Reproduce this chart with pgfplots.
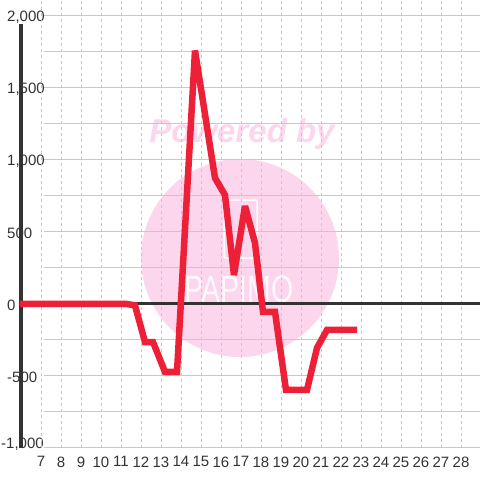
\documentclass[border=0pt]{standalone}
\usepackage{pgfplots}
\pgfplotsset{compat=1.18}
\usepackage{fontspec}
\setmainfont{Liberation Sans}
\definecolor{linered}{RGB}{238,32,56}
\definecolor{wmpink}{RGB}{251,214,236}
\definecolor{axdark}{RGB}{51,51,51}
\definecolor{gridgray}{RGB}{200,200,200}
\begin{document}
\begin{tikzpicture}
\useasboundingbox (-20pt,-32pt) rectangle (460pt,448pt);
\begin{axis}[
  at={(0,0)}, anchor=south west,
  scale only axis, width=460pt, height=448pt,
  xmin=5.95, xmax=28.95, ymin=-1000, ymax=2111,
  axis line style={draw=none},
  xtick={7,...,28}, ytick={-500,0,...,2000},
  extra y ticks={-1000},
  extra y tick style={yticklabel style={xshift=-6pt, yshift=5pt}},
  major tick length=0pt,
  tick label style={font=\fontsize{15}{17}\selectfont, text=axdark},
  /pgf/number format/assume math mode=true,
  /pgf/number format/1000 sep={,},
  yticklabel style={anchor=west, fill=white, inner sep=1pt, xshift=-14pt, yshift=-1pt},
  xticklabel style={yshift=-5pt},
  clip=false,
]
% watermark
\fill[wmpink] (axis cs:16.95,319) circle[radius=99pt];
\node[text=wmpink, font=\fontsize{33}{33}\selectfont\bfseries\itshape] at (axis cs:17.05,1181) {Powered by};
\draw[white, line width=1.5pt, rounded corners=2pt, opacity=0.9] (axis cs:16.15,319) rectangle (axis cs:17.8,722);
\node[text=white, opacity=0.85, xscale=0.75, font=\fontsize{38}{38}\selectfont] at (axis cs:16.9,104) {PAPIMO};
% grid
\pgfplotsinvokeforeach{7,...,28}{
  \draw[gridgray, line width=0.8pt, dash pattern=on 3pt off 3pt] (axis cs:#1,-1000) -- (axis cs:#1,2111);
}
\pgfplotsinvokeforeach{-1000,-750,...,2000}{
  \draw[gridgray, line width=1pt] (axis cs:7.15,#1) -- (axis cs:28.95,#1);
}
% axis lines
\draw[axdark, line width=3pt] (axis cs:5.95,0) -- (axis cs:28.95,0);
\draw[axdark, line width=3.5pt] ([xshift=0.8pt]axis cs:5.95,-1000) -- ([xshift=0.8pt]axis cs:5.95,1944);
% data
\addplot[linered, line width=6.5pt, line join=miter, miter limit=3] coordinates {
  (5.95,0) (11.3,0) (11.7,-10) (12.2,-264) (12.6,-264) (13.2,-472)
  (13.8,-472) (14.7,1760) (15.7,875) (16.2,757) (16.65,201) (17.2,680)
  (17.7,424) (18.1,-55) (18.7,-55) (19.25,-597) (20.3,-597) (20.8,-305)
  (21.3,-180) (22.8,-180)
};
\end{axis}
\end{tikzpicture}
\end{document}
